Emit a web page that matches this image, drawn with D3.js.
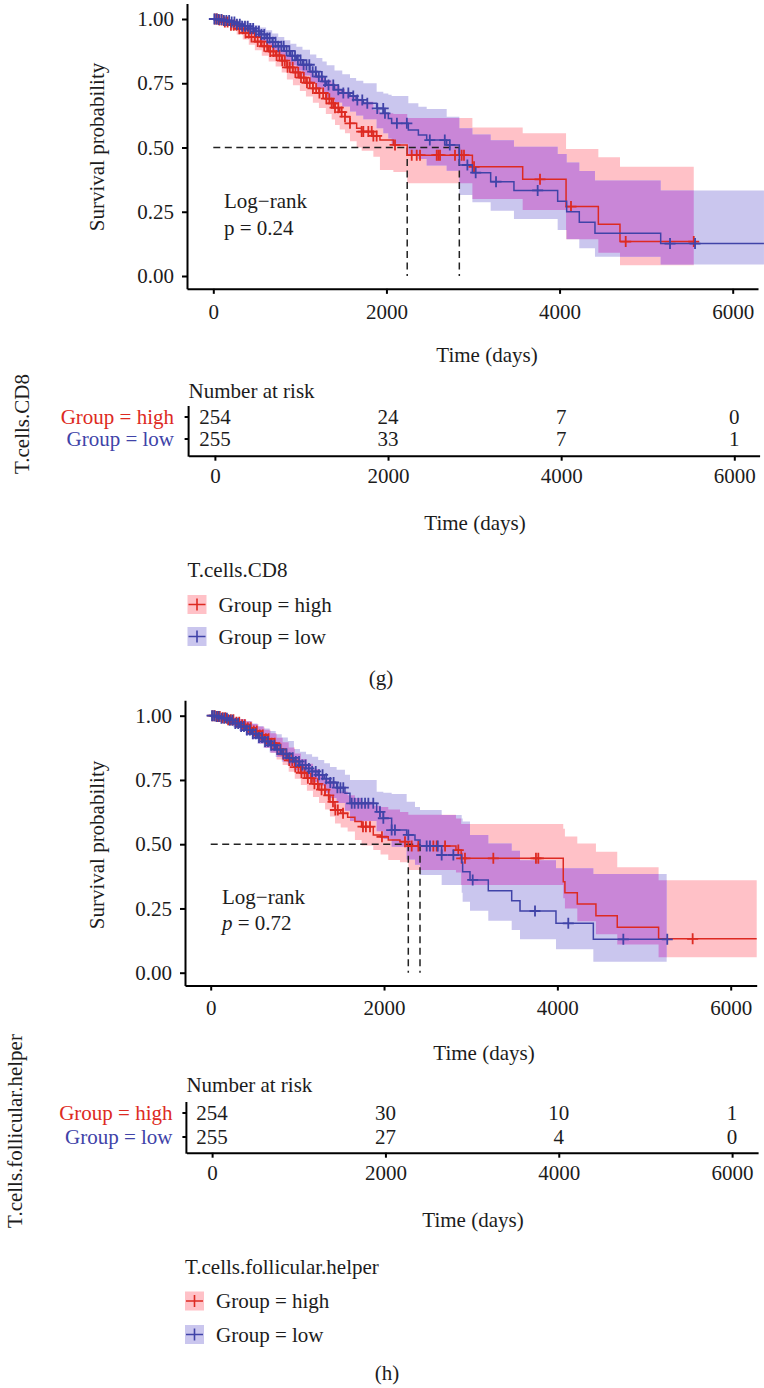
<!DOCTYPE html>
<html>
<head>
<meta charset="utf-8">
<script src="https://cdn.jsdelivr.net/npm/d3@7"></script>
<style>
  html, body { margin: 0; padding: 0; background: #ffffff; }
  svg { display: block; }
  text { font-family: 'Liberation Serif', 'Times New Roman', serif; fill: #1c1c1c; }
</style>
</head>
<body>
<svg id="chart" width="764" height="1388"></svg>
<script>
// ---------- shared labels ----------
const timeTicks = [0, 2000, 4000, 6000];
const survTicks = [0, 0.25, 0.5, 0.75, 1];
const groupNames = ["Group = high", "Group = low"];

// ---------- T.cells.CD8 : Kaplan–Meier steps (time in days, survival, 95% CI) ----------
const cd8HighTime  = [0, 60, 130, 200, 270, 340, 410, 480, 560, 640, 720, 790, 850, 920, 1000, 1070, 1150, 1220, 1300, 1367, 1406, 1460, 1521, 1579, 1656, 1714, 1849, 1925, 2080, 2240, 2993, 3574, 4075, 4448, 4698];
const cd8HighSurv  = [1, .996, .988, .976, .962, .946, .93, .912, .894, .874, .858, .838, .812, .792, .772, .752, .73, .712, .69, .672, .655, .638, .62, .594, .575, .562, .545, .529, .51, .47, .425, .376, .27, .201, .134];
const cd8HighUpper = [1, 1, .998, .992, .983, .972, .958, .944, .93, .912, .898, .88, .856, .838, .82, .802, .784, .77, .762, .75, .74, .728, .717, .70, .69, .678, .646, .633, .63, .615, .578, .555, .494, .462, .425];
const cd8HighLower = [1, .988, .975, .958, .94, .92, .90, .878, .857, .835, .815, .792, .765, .742, .72, .698, .674, .654, .63, .609, .588, .57, .555, .524, .50, .487, .464, .412, .405, .361, .30, .257, .143, .09, .042];
const cd8HighCensor = [18, 42, 71, 98, 133, 165, 204, 236, 268, 301, 338, 372, 409, 441, 478, 513, 549, 588, 622, 657, 694, 731, 764, 797, 826, 858, 884, 917, 948, 981, 1013, 1046, 1082, 1114, 1151, 1188, 1226, 1269, 1306, 1340, 1367, 1386, 1406, 1444, 1483, 1521, 1579, 1714, 1733, 1791, 1830, 1849, 1887, 2099, 2292, 2350, 2388, 2581, 2600, 2619, 2792, 2869, 2896, 3012, 3774, 4132, 4764, 5550];
const cd8HighEnd = 5550;

const cd8LowTime  = [0, 50, 120, 190, 260, 330, 400, 470, 540, 610, 680, 750, 820, 890, 960, 1030, 1117, 1190, 1260, 1310, 1400, 1490, 1579, 1650, 1733, 1887, 1964, 2022, 2060, 2253, 2369, 2465, 2696, 2842, 2993, 3204, 3473, 3978, 4082, 4228, 4409, 5168];
const cd8LowSurv  = [1, .998, .994, .988, .98, .972, .963, .952, .94, .926, .91, .894, .876, .857, .84, .822, .795, .776, .757, .743, .725, .712, .70, .685, .672, .652, .633, .613, .594, .568, .549, .529, .51, .432, .402, .367, .333, .291, .25, .209, .166, .126];
const cd8LowUpper = [1, 1, 1, .998, .994, .99, .984, .976, .967, .956, .944, .93, .917, .904, .892, .88, .862, .848, .835, .82, .80, .785, .77, .76, .75, .717, .71, .705, .70, .672, .659, .65, .62, .575, .551, .528, .503, .475, .442, .409, .372, .333];
const cd8LowLower = [1, .994, .986, .976, .965, .953, .94, .927, .912, .896, .878, .86, .84, .82, .80, .78, .75, .73, .71, .695, .675, .66, .64, .625, .61, .575, .555, .535, .515, .475, .455, .43, .41, .315, .287, .254, .222, .179, .143, .108, .075, .045];
const cd8LowCensor = [12, 37, 63, 94, 122, 151, 183, 212, 244, 273, 306, 333, 366, 398, 427, 461, 493, 527, 556, 589, 624, 652, 688, 719, 752, 786, 813, 847, 879, 912, 944, 977, 1008, 1043, 1077, 1109, 1148, 1183, 1219, 1254, 1292, 1331, 1386, 1444, 1502, 1560, 1617, 1664, 1721, 1779, 1894, 1963, 1983, 2121, 2236, 2501, 2674, 2732, 2935, 3031, 3266, 3747, 5276, 5565];
const cd8LowEnd = 6361;

const cd8RiskHigh = [254, 24, 7, 0];
const cd8RiskLow  = [255, 33, 7, 1];
const cd8PValue = "0.24";

// ---------- T.cells.follicular.helper ----------
const tfhHighTime  = [0, 60, 130, 200, 270, 340, 410, 480, 550, 620, 690, 760, 830, 900, 970, 1040, 1110, 1180, 1250, 1320, 1376, 1434, 1500, 1580, 1664, 1741, 1876, 1960, 2049, 2184, 2280, 2830, 2890, 4068, 4087, 4230, 4445, 4691, 5168];
const tfhHighSurv  = [1, .997, .992, .984, .975, .965, .953, .94, .925, .91, .893, .87, .85, .826, .80, .778, .757, .735, .712, .69, .665, .633, .62, .605, .588, .568, .536, .529, .516, .51, .493, .477, .445, .354, .311, .267, .222, .177, .132];
const tfhHighUpper = [1, 1, 1, .997, .992, .986, .978, .968, .957, .945, .932, .914, .897, .876, .853, .832, .813, .793, .773, .752, .735, .715, .705, .69, .68, .665, .65, .645, .635, .625, .615, .60, .579, .56, .53, .503, .471, .41, .36];
const tfhHighLower = [1, .99, .981, .968, .955, .941, .926, .91, .892, .875, .855, .83, .808, .782, .755, .73, .708, .684, .66, .635, .608, .581, .565, .549, .516, .495, .477, .46, .439, .43, .40, .39, .341, .29, .25, .20, .15, .11, .06];
const tfhHighCensor = [22, 48, 77, 105, 139, 168, 201, 233, 262, 297, 329, 362, 394, 428, 463, 497, 532, 566, 601, 636, 668, 703, 739, 771, 806, 838, 872, 907, 941, 976, 1012, 1047, 1083, 1121, 1158, 1197, 1236, 1279, 1318, 1362, 1411, 1438, 1467, 1527, 1757, 1791, 1838, 1976, 2242, 2319, 2396, 2569, 2608, 2704, 2857, 2896, 2934, 3261, 3753, 3780, 5561];
const tfhHighEnd = 6300;

const tfhLowTime  = [0, 50, 120, 190, 260, 330, 400, 470, 540, 610, 680, 750, 820, 890, 960, 1030, 1100, 1170, 1240, 1310, 1376, 1453, 1549, 1607, 1915, 1992, 2088, 2261, 2357, 2415, 2665, 2896, 2907, 2992, 3203, 3473, 3569, 3984, 4415];
const tfhLowSurv  = [1, .997, .99, .982, .97, .958, .944, .93, .915, .9, .885, .868, .852, .836, .822, .808, .795, .783, .77, .755, .74, .72, .698, .659, .626, .601, .555, .536, .516, .493, .458, .43, .393, .361, .319, .28, .24, .192, .13];
const tfhLowUpper = [1, 1, 1, .998, .993, .987, .979, .97, .96, .95, .94, .928, .915, .902, .87, .86, .85, .84, .828, .815, .80, .79, .77, .75, .704, .70, .695, .665, .645, .633, .614, .60, .588, .536, .503, .475, .438, .406, .384];
const tfhLowLower = [1, .993, .983, .97, .955, .94, .924, .908, .891, .874, .857, .839, .822, .804, .788, .772, .757, .742, .727, .70, .68, .66, .63, .59, .55, .52, .49, .44, .42, .38, .341, .311, .276, .241, .202, .166, .13, .091, .043];
const tfhLowCensor = [15, 39, 66, 93, 124, 156, 187, 219, 251, 284, 317, 351, 384, 418, 452, 487, 521, 557, 592, 627, 661, 697, 733, 768, 803, 839, 874, 911, 947, 982, 1019, 1057, 1094, 1133, 1171, 1212, 1250, 1291, 1333, 1380, 1418, 1462, 1497, 1530, 1627, 1661, 1703, 1742, 1781, 1819, 1876, 1953, 1992, 2088, 2126, 2280, 2492, 2530, 2620, 2665, 2800, 3023, 3742, 4126, 4761, 5268];
const tfhLowEnd = 5261;

const tfhRiskHigh = [254, 30, 10, 1];
const tfhRiskLow  = [255, 27, 4, 0];
const tfhPValue = "0.72";

// ---------- styling ----------
const RED = "#dd2a22", BLUE = "#4043a8";
const PINK = "#ffc1c7", LAV = "#cac6ee", PURPLE = "#c986d7";
const INK = "#1c1c1c";
const FS = 21;

const svg = d3.select("#chart");

function series(time, surv, up, lo, end) {
  const rows = time.map((t, i) => ({ t, s: surv[i], up: up[i], lo: lo[i] }));
  const last = rows[rows.length - 1];
  rows.push({ t: end, s: last.s, up: last.up, lo: last.lo });
  return rows;
}

function survAt(time, surv, t) {
  const i = d3.bisectRight(time, t) - 1;
  return surv[Math.max(0, i)];
}

function median(time, surv) {
  const i = surv.findIndex(s => s <= 0.5);
  return i < 0 ? null : time[i];
}

function plusPath(cx, cy, r) {
  return `M${cx - r},${cy}H${cx + r}M${cx},${cy - r}V${cy + r}`;
}

function drawPanel(L, D) {
  const root = svg.append("g");

  // ----- survival plot -----
  const x = d3.scaleLinear().domain([0, 6000]).range([L.x0, L.x6000]);
  x.domain([x.invert(L.left), x.invert(L.right)]).range([L.left, L.right]);
  const yk = L.y0 - L.y1;
  const y = d3.scaleLinear().domain([-0.05, 1.06]).range([L.y0 + 0.05 * yk, L.y1 - 0.06 * yk]);

  const hi = series(D.highTime, D.highSurv, D.highUpper, D.highLower, D.highEnd);
  const lo = series(D.lowTime, D.lowSurv, D.lowUpper, D.lowLower, D.lowEnd);

  const band = d3.area().curve(d3.curveStepAfter)
    .x(d => x(d.t)).y0(d => y(d.lo)).y1(d => y(d.up));
  const line = d3.line().curve(d3.curveStepAfter)
    .x(d => x(d.t)).y(d => y(d.s));

  const clipId = "clip-" + L.id;
  root.append("clipPath").attr("id", clipId).append("path").attr("d", band(hi));

  root.append("path").attr("d", band(hi)).attr("fill", PINK);
  root.append("path").attr("d", band(lo)).attr("fill", LAV);
  root.append("path").attr("d", band(lo)).attr("fill", PURPLE).attr("clip-path", `url(#${clipId})`);

  // median survival guides
  const meds = [median(D.highTime, D.highSurv), median(D.lowTime, D.lowSurv)].filter(m => m !== null);
  const guide = root.append("g").attr("stroke", "#222").attr("stroke-width", 1.5)
    .attr("stroke-dasharray", "7,4.5").attr("fill", "none");
  guide.append("line").attr("x1", x(0)).attr("x2", x(d3.max(meds))).attr("y1", y(0.5)).attr("y2", y(0.5));
  meds.forEach(m => guide.append("line").attr("x1", x(m)).attr("x2", x(m)).attr("y1", y(0.5)).attr("y2", y(0)));

  // curves and censoring marks
  [[hi, RED, D.highTime, D.highSurv, D.highCensor], [lo, BLUE, D.lowTime, D.lowSurv, D.lowCensor]]
    .forEach(([rows, col, tt, ss, cens]) => {
      root.append("path").attr("d", line(rows)).attr("fill", "none").attr("stroke", col).attr("stroke-width", 1.5);
      root.append("g").selectAll("path").data(cens).join("path")
        .attr("d", t => plusPath(x(t), y(survAt(tt, ss, t)), 5.5))
        .attr("stroke", col).attr("stroke-width", 1.8).attr("fill", "none");
    });

  // axes
  const xAxis = root.append("g").attr("transform", `translate(0,${y(-0.05)})`)
    .call(d3.axisBottom(x).tickValues(timeTicks).tickSize(5).tickSizeOuter(0).tickPadding(10).tickFormat(d3.format("d")));
  const yAxis = root.append("g").attr("transform", `translate(${L.left},0)`)
    .call(d3.axisLeft(y).tickValues(survTicks).tickSize(5).tickSizeOuter(0).tickPadding(8).tickFormat(d3.format(".2f")));
  [xAxis, yAxis].forEach(a => {
    a.attr("font-family", null);
    a.select(".domain").attr("stroke", "#000").attr("stroke-width", 2);
    a.selectAll(".tick line").attr("stroke", "#000").attr("stroke-width", 2);
    a.selectAll(".tick text").attr("font-size", FS).style("fill", INK);
  });

  root.append("text").attr("x", L.titleX).attr("y", L.timeY).attr("dy", "0.35em")
    .attr("text-anchor", "middle").attr("font-size", FS).text("Time (days)");
  root.append("text").attr("transform", `translate(${L.ylabX},${L.ylabY}) rotate(-90)`)
    .attr("dy", "0.35em").attr("text-anchor", "middle").attr("font-size", FS).text("Survival probability");

  root.append("text").attr("x", L.lrX).attr("y", L.lrY).attr("dy", "0.35em")
    .attr("font-size", FS).text("Log\u2212rank");
  const pl = root.append("text").attr("x", L.lrX).attr("y", L.lrY + L.lrGap).attr("dy", "0.35em").attr("font-size", FS);
  pl.append("tspan").attr("font-style", L.italicP ? "italic" : "normal").text("p");
  pl.append("tspan").text(" = " + D.p);

  // ----- number-at-risk table -----
  const xt = x.copy().range([L.left + L.tShift, L.right + L.tShift]);
  root.append("text").attr("x", L.left + L.tShift).attr("y", L.nrY).attr("dy", "0.35em")
    .attr("font-size", FS).text("Number at risk");

  const tAxis = root.append("g").attr("transform", `translate(0,${L.tAxisY})`)
    .call(d3.axisBottom(xt).tickValues(timeTicks).tickSize(5).tickSizeOuter(0).tickPadding(7).tickFormat(d3.format("d")));
  tAxis.attr("font-family", null);
  tAxis.select(".domain").attr("stroke", "#000").attr("stroke-width", 2);
  tAxis.selectAll(".tick line").attr("stroke", "#000").attr("stroke-width", 2);
  tAxis.selectAll(".tick text").attr("font-size", FS).style("fill", INK);

  const tl = xt.range()[0];
  root.append("line").attr("x1", tl).attr("x2", tl).attr("y1", L.tTop).attr("y2", L.tAxisY + 1)
    .attr("stroke", "#000").attr("stroke-width", 2);

  [[D.riskHigh, RED, L.rowY[0]], [D.riskLow, BLUE, L.rowY[1]]].forEach(([vals, col, ry], gi) => {
    root.append("line").attr("x1", tl - 4).attr("x2", tl).attr("y1", ry).attr("y2", ry)
      .attr("stroke", "#000").attr("stroke-width", 2);
    root.append("text").attr("x", L.grpRight).attr("y", ry).attr("dy", "0.35em")
      .attr("text-anchor", "end").attr("font-size", FS).style("fill", col).text(groupNames[gi]);
    root.append("g").selectAll("text").data(vals).join("text")
      .attr("x", (v, i) => xt(timeTicks[i])).attr("y", ry).attr("dy", "0.35em")
      .attr("text-anchor", "middle").attr("font-size", FS).text(v => v);
  });

  root.append("text").attr("x", L.tTitleX).attr("y", L.tTimeY).attr("dy", "0.35em")
    .attr("text-anchor", "middle").attr("font-size", FS).text("Time (days)");
  root.append("text").attr("transform", `translate(${L.sideX},${L.sideY}) rotate(-90)`)
    .attr("dy", "0.35em").attr("text-anchor", "middle").attr("font-size", FS).text(D.name);

  // ----- legend -----
  root.append("text").attr("x", L.legX).attr("y", L.legTitleY).attr("dy", "0.35em")
    .attr("font-size", FS).text(D.name);
  [[PINK, RED, L.legY[0]], [LAV, BLUE, L.legY[1]]].forEach(([fill, col, ly], gi) => {
    const k = 19;
    root.append("rect").attr("x", L.legX).attr("y", ly - k / 2).attr("width", k).attr("height", k).attr("fill", fill);
    root.append("path").attr("d", `M${L.legX + 1},${ly}H${L.legX + k - 1}M${L.legX + k / 2},${ly - 6}V${ly + 6}`)
      .attr("stroke", col).attr("stroke-width", 1.6).attr("fill", "none");
    root.append("text").attr("x", L.legX + 31).attr("y", ly).attr("dy", "0.35em")
      .attr("font-size", FS).text(groupNames[gi]);
  });

  root.append("text").attr("x", L.tagX).attr("y", L.tagY).attr("dy", "0.35em")
    .attr("text-anchor", "middle").attr("font-size", FS).text(D.tag);
}

drawPanel(
  { id: "g", left: 187, right: 758, x0: 213.3, x6000: 732.7, y0: 276, y1: 19,
    titleX: 487, timeY: 355, ylabX: 97, ylabY: 147, lrX: 224, lrY: 201, lrGap: 27, italicP: false,
    tShift: 1.6, nrY: 391, tAxisY: 455.7, tTop: 406, rowY: [417, 439], grpRight: 174,
    tTitleX: 475, tTimeY: 523, sideX: 22, sideY: 424,
    legX: 187.5, legTitleY: 570, legY: [604.5, 636.5], tagX: 381, tagY: 678 },
  { name: "T.cells.CD8", tag: "(g)", p: cd8PValue,
    highTime: cd8HighTime, highSurv: cd8HighSurv, highUpper: cd8HighUpper, highLower: cd8HighLower, highCensor: cd8HighCensor, highEnd: cd8HighEnd,
    lowTime: cd8LowTime, lowSurv: cd8LowSurv, lowUpper: cd8LowUpper, lowLower: cd8LowLower, lowCensor: cd8LowCensor, lowEnd: cd8LowEnd,
    riskHigh: cd8RiskHigh, riskLow: cd8RiskLow }
);

drawPanel(
  { id: "h", left: 185, right: 756.7, x0: 210.7, x6000: 730.7, y0: 972.7, y1: 715.7,
    titleX: 484, timeY: 1053, ylabX: 97, ylabY: 845, lrX: 222, lrY: 897, lrGap: 26, italicP: true,
    tShift: 1.4, nrY: 1085, tAxisY: 1152.7, tTop: 1102, rowY: [1113, 1137], grpRight: 172.5,
    tTitleX: 473, tTimeY: 1220, sideX: 15, sideY: 1131,
    legX: 185, legTitleY: 1267, legY: [1301, 1334.5], tagX: 387, tagY: 1373 },
  { name: "T.cells.follicular.helper", tag: "(h)", p: tfhPValue,
    highTime: tfhHighTime, highSurv: tfhHighSurv, highUpper: tfhHighUpper, highLower: tfhHighLower, highCensor: tfhHighCensor, highEnd: tfhHighEnd,
    lowTime: tfhLowTime, lowSurv: tfhLowSurv, lowUpper: tfhLowUpper, lowLower: tfhLowLower, lowCensor: tfhLowCensor, lowEnd: tfhLowEnd,
    riskHigh: tfhRiskHigh, riskLow: tfhRiskLow }
);
</script>
</body>
</html>
